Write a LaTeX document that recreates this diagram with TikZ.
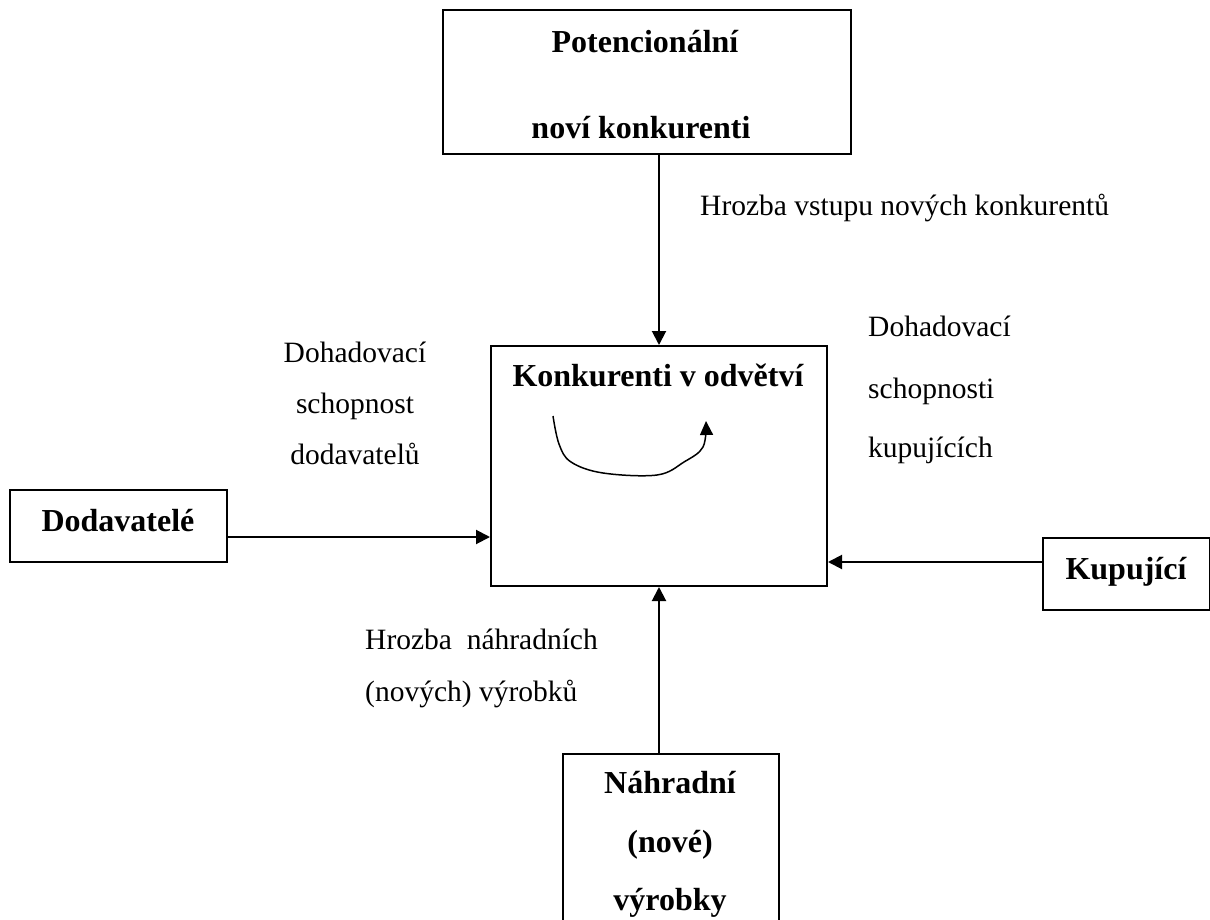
\documentclass[tikz,border=0pt]{standalone}
\usepackage{fontspec}
\setmainfont{Liberation Serif}
\usetikzlibrary{arrows.meta}
\begin{document}
\begin{tikzpicture}[x=1pt,y=-1pt,
  box/.style={draw, line width=2pt, inner sep=0pt, anchor=north west},
  lbl/.style={anchor=base, inner sep=0pt, font=\fontsize{29.5}{34}\selectfont},
  blbl/.style={anchor=base, inner sep=0pt, font=\fontsize{32}{37}\selectfont\bfseries},
  arr/.style={line width=2pt, -{Triangle[length=14pt,width=14pt]}}]
\useasboundingbox (0,0) rectangle (1210,920);
% boxes
\node[box, minimum width=408pt, minimum height=144pt] (pot) at (442,9) {};
\node[box, minimum width=336pt, minimum height=240pt] (konk) at (490,345) {};
\node[box, minimum width=217pt, minimum height=72pt] (dod) at (9,489) {};
\node[box, minimum width=167pt, minimum height=72pt] (kup) at (1042,537) {};
\node[box, minimum width=216pt, minimum height=190pt] (nah) at (562,753) {};
% box texts
\node[blbl] (potA) at (645,53) {Potencionální};
\node[blbl] (potB) at (641,139) {noví konkurenti};
\node[blbl] (konkT) at (658,386) {Konkurenti v odvětví};
\node[blbl] (dodT) at (118,531) {Dodavatelé};
\node[blbl] (kupT) at (1126,579) {Kupující};
\node[blbl] (nahA) at (670,793) {Náhradní};
\node[blbl] (nahB) at (670,852) {(nové)};
\node[blbl] (nahC) at (670,910) {výrobky};
% connectors
\coordinate (dy) at (0,537);
\coordinate (ky) at (0,562);
\draw[arr] (pot.south -| konk.north) -- (konk.north);
\draw[arr] (dod.east |- dy) -- (konk.west |- dy);
\draw[arr] (kup.west |- ky) -- (konk.east |- ky);
\draw[arr] (nah.north -| konk.south) -- (konk.south);
% labels
\node[lbl, anchor=base west] (l1) at (700,215) {Hrozba vstupu nových konkurentů};
\node[lbl] (l2a) at (355,362) {Dohadovací};
\node[lbl] (l2b) at (355,413) {schopnost};
\node[lbl] (l2c) at (355,464) {dodavatelů};
\node[lbl, anchor=base west] (l3a) at (868,336) {Dohadovací};
\node[lbl, anchor=base west] (l3b) at (868,398) {schopnosti};
\node[lbl, anchor=base west] (l3c) at (868,457) {kupujících};
\node[lbl, anchor=base west] (l4a) at (365,649) {Hrozba\ \ náhradních};
\node[lbl, anchor=base west] (l4b) at (365,701) {(nových) výrobků};
% curly arrow inside
\draw[line width=1.5pt, -{Triangle[length=14pt,width=13pt]}]
  plot[smooth, tension=0.6] coordinates {(553,416) (559,444) (571,462) (603,473) (657,475) (684,462) (703,447) (706,421)};
\end{tikzpicture}
\end{document}
